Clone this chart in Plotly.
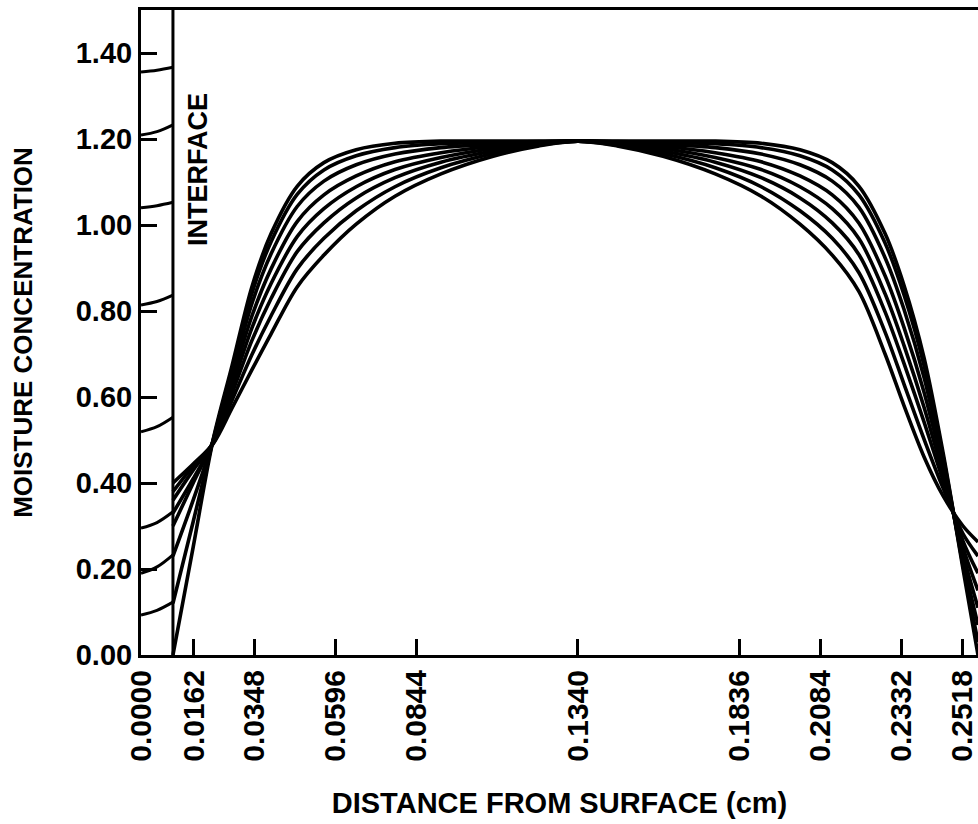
import plotly.graph_objects as go

# Position of the coating / substrate interface (cm)
INTERFACE_X = 0.0098

# Distance from surface (cm) where the profiles are sampled
x_left = [0.0098, 0.0160, 0.0221, 0.0279, 0.0340, 0.0399, 0.0479, 0.0561,
          0.0660, 0.0779, 0.0920, 0.1080, 0.1221, 0.1340]
x_right = [0.1460, 0.1601, 0.1761, 0.1902, 0.2021, 0.2120, 0.2202, 0.2282,
           0.2340, 0.2402, 0.2460, 0.2521, 0.2567]

# Moisture concentration profiles in the substrate (left half, then right half)
profile_1 = [0.000, 0.251, 0.500, 0.672, 0.856, 0.980, 1.090, 1.145, 1.175, 1.190, 1.195, 1.195, 1.195, 1.195,
             1.195, 1.195, 1.195, 1.190, 1.175, 1.145, 1.090, 0.980, 0.860, 0.690, 0.470, 0.200, 0.000]
profile_2 = [0.120, 0.310, 0.499, 0.664, 0.841, 0.961, 1.071, 1.128, 1.161, 1.180, 1.189, 1.192, 1.194, 1.195,
             1.194, 1.192, 1.189, 1.180, 1.161, 1.128, 1.070, 0.958, 0.838, 0.672, 0.462, 0.208, 0.030]
profile_3 = [0.230, 0.360, 0.498, 0.652, 0.817, 0.933, 1.043, 1.102, 1.140, 1.165, 1.180, 1.188, 1.193, 1.195,
             1.193, 1.188, 1.180, 1.165, 1.140, 1.102, 1.041, 0.924, 0.804, 0.644, 0.450, 0.220, 0.070]
profile_4 = [0.300, 0.400, 0.497, 0.638, 0.788, 0.898, 1.008, 1.070, 1.114, 1.147, 1.168, 1.183, 1.191, 1.195,
             1.191, 1.183, 1.168, 1.147, 1.114, 1.070, 1.004, 0.882, 0.762, 0.610, 0.435, 0.235, 0.110]
profile_5 = [0.330, 0.410, 0.495, 0.623, 0.760, 0.864, 0.973, 1.038, 1.089, 1.129, 1.157, 1.178, 1.190, 1.195,
             1.190, 1.178, 1.157, 1.129, 1.089, 1.038, 0.968, 0.840, 0.720, 0.575, 0.420, 0.250, 0.150]
profile_6 = [0.360, 0.430, 0.494, 0.608, 0.731, 0.829, 0.938, 1.005, 1.063, 1.110, 1.146, 1.172, 1.188, 1.195,
             1.188, 1.172, 1.146, 1.110, 1.063, 1.005, 0.931, 0.798, 0.678, 0.541, 0.405, 0.265, 0.190]
profile_7 = [0.380, 0.440, 0.492, 0.592, 0.698, 0.789, 0.898, 0.969, 1.033, 1.089, 1.133, 1.166, 1.186, 1.195,
             1.186, 1.166, 1.133, 1.089, 1.033, 0.969, 0.889, 0.751, 0.630, 0.501, 0.388, 0.282, 0.230]
profile_8 = [0.400, 0.444, 0.491, 0.574, 0.663, 0.747, 0.856, 0.930, 1.002, 1.067, 1.119, 1.160, 1.184, 1.195,
             1.184, 1.160, 1.119, 1.067, 1.002, 0.930, 0.845, 0.700, 0.580, 0.460, 0.370, 0.300, 0.263]
profiles = [profile_1, profile_2, profile_3, profile_4,
            profile_5, profile_6, profile_7, profile_8]

# Concentration across the coating: surface, mid-coating, interface
x_coat = [0.0000, 0.0049, 0.0098]
coat_1 = [1.356, 1.360, 1.367]
coat_2 = [1.209, 1.217, 1.233]
coat_3 = [1.040, 1.045, 1.053]
coat_4 = [0.814, 0.822, 0.837]
coat_5 = [0.519, 0.531, 0.553]
coat_6 = [0.295, 0.308, 0.333]
coat_7 = [0.190, 0.205, 0.233]
coat_8 = [0.093, 0.104, 0.123]
coating = [coat_1, coat_2, coat_3, coat_4, coat_5, coat_6, coat_7, coat_8]

# Axis ticks
x_ticks = [0.0000, 0.0162, 0.0348, 0.0596, 0.0844, 0.1340, 0.1836, 0.2084, 0.2332, 0.2518]
x_tick_text = ["0.0000", "0.0162", "0.0348", "0.0596", "0.0844",
               "0.1340", "0.1836", "0.2084", "0.2332", "0.2518"]
y_ticks = [0.0, 0.2, 0.4, 0.6, 0.8, 1.0, 1.2, 1.4]
y_tick_text = ["0.00", "0.20", "0.40", "0.60", "0.80", "1.00", "1.20", "1.40"]

FONT = "Liberation Sans, Arial, sans-serif"
INK = "#000000"

fig = go.Figure()

x_all = x_left + x_right
for prof in profiles:
    fig.add_trace(go.Scatter(
        x=x_all, y=prof, mode="lines",
        line=dict(color=INK, width=3.6, shape="spline", smoothing=0.9),
        hoverinfo="skip", showlegend=False,
    ))

for seg in coating:
    fig.add_trace(go.Scatter(
        x=x_coat, y=seg, mode="lines",
        line=dict(color=INK, width=3, shape="spline", smoothing=1),
        hoverinfo="skip", showlegend=False,
    ))

# Interface line
fig.add_trace(go.Scatter(
    x=[INTERFACE_X, INTERFACE_X], y=[0, 1.5], mode="lines",
    line=dict(color=INK, width=3), hoverinfo="skip", showlegend=False,
))

fig.add_annotation(
    x=INTERFACE_X, y=1.13, xref="x", yref="y",
    text="<b>INTERFACE</b>", textangle=-90, showarrow=False,
    xanchor="left", xshift=8,
    font=dict(family=FONT, size=27, color=INK),
)

fig.update_xaxes(
    range=[0, 0.2567], showline=True, linecolor=INK, linewidth=3, mirror=True,
    ticks="inside", ticklen=16, tickwidth=2.5, tickcolor=INK,
    tickvals=x_ticks, ticktext=[f"<b>{t}</b>" for t in x_tick_text],
    tickangle=-90, tickfont=dict(family=FONT, size=30, color=INK),
    showgrid=False, zeroline=False,
    title=dict(text="<b>DISTANCE FROM SURFACE (cm)</b>",
               font=dict(family=FONT, size=29, color=INK), standoff=32),
)
fig.update_yaxes(
    range=[0, 1.5], showline=True, linecolor=INK, linewidth=3, mirror=True,
    ticks="inside", ticklen=16, tickwidth=2.5, tickcolor=INK,
    tickvals=y_ticks, ticktext=[f"<b>{t}</b>" for t in y_tick_text],
    tickfont=dict(family=FONT, size=29, color=INK),
    showgrid=False, zeroline=False,
    title=dict(text="<b>MOISTURE CONCENTRATION</b>",
               font=dict(family=FONT, size=26, color=INK), standoff=36),
)

fig.update_layout(
    width=978, height=824,
    margin=dict(l=141, r=0, t=10, b=169, autoexpand=False),
    paper_bgcolor="white", plot_bgcolor="white",
)

fig.write_html("out.html", config={"displayModeBar": False})
